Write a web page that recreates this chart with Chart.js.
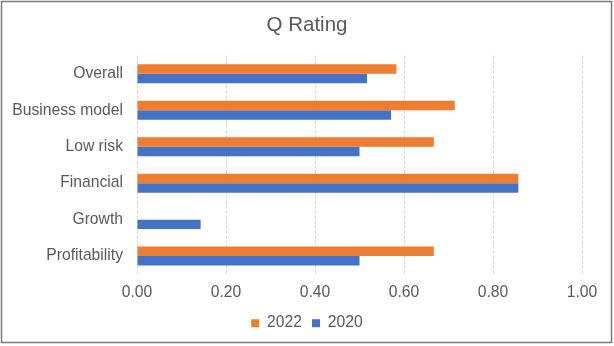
<!DOCTYPE html>
<html>
<head>
<meta charset="utf-8">
<script src="https://cdn.jsdelivr.net/npm/chart.js@4"></script>
<style>
 html, body { margin: 0; padding: 0; background: #fff; }
 #wrap { width: 614px; height: 346px; }
</style>
</head>
<body>
<div id="wrap"><canvas id="chart" width="614" height="346"></canvas></div>
<script>
const categories = ['Overall', 'Business model', 'Low risk', 'Financial', 'Growth', 'Profitability'];
const values2022 = [0.583, 0.714, 0.667, 0.857, 0, 0.667];
const values2020 = [0.517, 0.571, 0.5, 0.857, 0.143, 0.5];
const xTicks = [0, 0.2, 0.4, 0.6, 0.8, 1.0];

const textColor = '#595959';
const fontFamily = '"Liberation Sans", Arial, sans-serif';

// outer frame like the spreadsheet chart border
const frame = {
 id: 'frame',
 afterDraw(chart) {
  const ctx = chart.ctx;
  ctx.save();
  ctx.strokeStyle = '#7a7a7a';
  ctx.lineWidth = 1.5;
  ctx.strokeRect(1.5, 1.5, 610, 341);
  ctx.restore();
 }
};

new Chart(document.getElementById('chart').getContext('2d'), {
 type: 'bar',
 data: {
  labels: categories,
  datasets: [
   { label: '2022', data: values2022, backgroundColor: '#ED7D31' },
   { label: '2020', data: values2020, backgroundColor: '#4472C4' }
  ]
 },
 options: {
  indexAxis: 'y',
  responsive: false,
  animation: false,
  categoryPercentage: 0.52,
  barPercentage: 1,
  layout: { padding: { left: 0, right: 0, top: 0, bottom: 5 } },
  plugins: {
   title: {
    display: true,
    text: 'Q Rating',
    color: textColor,
    font: { family: fontFamily, size: 20.5, weight: 'normal' },
    padding: { top: 13, bottom: 18 }
   },
   legend: {
    position: 'bottom',
    labels: {
     color: textColor,
     font: { family: fontFamily, size: 15.7, lineHeight: 1 },
     boxWidth: 8,
     boxHeight: 8,
     padding: 10
    }
   },
   tooltip: { enabled: false }
  },
  scales: {
   x: {
    min: 0,
    max: 1,
    afterBuildTicks(scale) { scale.ticks = xTicks.map(v => ({ value: v })); },
    afterFit(scale) { scale.height = 31; },
    ticks: {
     color: textColor,
     font: { family: fontFamily, size: 15.7, lineHeight: 1 },
     padding: 11,
     callback: v => Number(v).toFixed(2)
    },
    grid: { color: '#d0d0d0', drawTicks: false },
    border: { display: false, dash: [3, 2] }
   },
   y: {
    afterFit(scale) { scale.width = 137; },
    ticks: {
     color: textColor,
     font: { family: fontFamily, size: 15.7 },
     padding: 14
    },
    grid: { display: false, drawTicks: false },
    border: { display: false }
   },
   // empty right-hand axis, only reserves the blank margin right of the plot
   yRight: {
    type: 'category',
    position: 'right',
    afterFit(scale) { scale.width = 32; },
    ticks: { display: false },
    grid: { display: false, drawTicks: false },
    border: { display: false }
   }
  }
 },
 plugins: [frame]
});
</script>
</body>
</html>
